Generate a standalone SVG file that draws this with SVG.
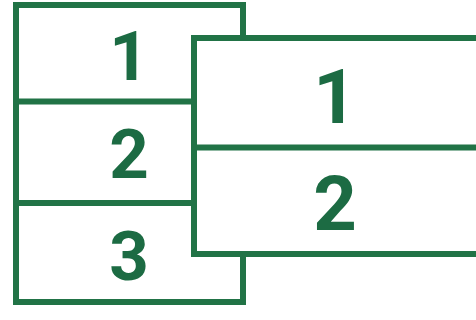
<svg xmlns="http://www.w3.org/2000/svg" width="476" height="320" viewBox="0 0 476 320">
<style>
.box{fill:#ffffff;stroke:#217346;stroke-width:6}
.ln{stroke:#217346;stroke-width:6;fill:none}
.t{font-family:Roboto,"Liberation Sans",sans-serif;font-weight:bold;fill:#1c6b43;text-anchor:middle}
.s{font-size:69px}
.b{font-size:76px}
</style>
<rect width="476" height="320" fill="#ffffff"/>
<g id="left-stack">
<rect class="box" x="16" y="5" width="227" height="297"/>
<line class="ln" x1="16" y1="101.5" x2="194" y2="101.5"/>
<line class="ln" x1="16" y1="203" x2="194" y2="203"/>
<text class="t s" x="129" y="80">1</text>
<text class="t s" x="129" y="178">2</text>
<text class="t s" x="129" y="280">3</text>
</g>
<g id="right-stack">
<rect class="box" x="194" y="38" width="290" height="216"/>
<line class="ln" x1="194" y1="147.5" x2="484" y2="147.5"/>
<text class="t b" x="335" y="123">1</text>
<text class="t b" x="335" y="230">2</text>
</g>
<g id="connectors"></g>
</svg>
